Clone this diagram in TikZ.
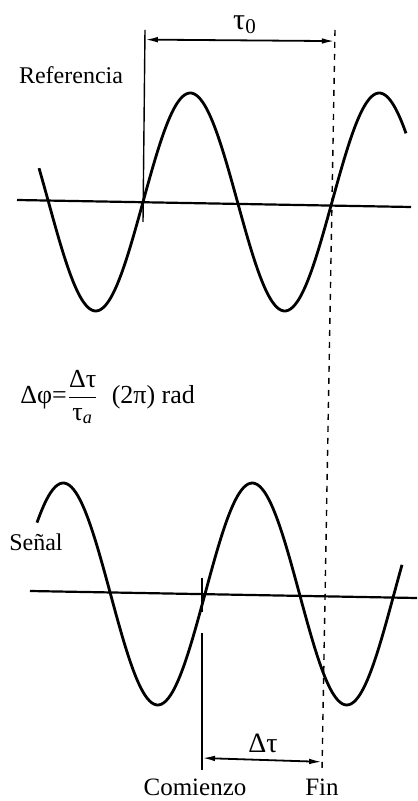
\documentclass[tikz,border=0pt]{standalone}
\usepackage{amsmath}
\usepackage{fontspec}
\setmainfont{Liberation Serif}
\usepackage{tikz}
\usetikzlibrary{positioning,arrows.meta,calc}

\begin{document}
\begin{tikzpicture}[
      x=0.5pt, y=-0.5pt,
      wave/.style={line width=1.4pt, line join=round},
      axisline/.style={line width=1.1pt},
      marker/.style={line width=0.7pt},
      dashmark/.style={line width=0.7pt, dash pattern=on 3pt off 3pt},
      dim/.style={{Latex[length=6.5pt,width=2.8pt]}-{Latex[length=6.5pt,width=2.8pt]}, line width=0.9pt},
      lbl/.style={font=\fontsize{12}{14}\selectfont, inner sep=1pt}
  ]
    \useasboundingbox (0,0) rectangle (417,801);
    % reference signal
    \draw[axisline] (17,200) -- (411,207);
    \draw[wave] plot[domain=39:406, samples=160, smooth] (\x, {202-109*sin((\x-143)/189*360)});
    % measured signal
    \draw[axisline] (30,591) -- (417,598);
    \draw[wave] plot[domain=37:402, samples=160, smooth] (\x, {594-111*sin((\x-205)/189*360)});
    % time marks
    \coordinate (refTop) at (145,30);
    \coordinate (refBot) at (143,222);
    \coordinate (finTop) at (335,30);
    \coordinate (finBot) at (322,770);
    \coordinate (comTop) at (202,633);
    \coordinate (comBot) at (202,770);
    \coordinate (comTickA) at (202,578);
    \coordinate (comTickB) at (202,612);
    \draw[marker] (refTop) -- (refBot);
    \draw[dashmark] (finTop) -- (finBot);
    \draw[marker] (comTop) -- (comBot);
    \draw[marker] (comTickA) -- (comTickB);
    \coordinate (periodL) at ($(refTop)!0.05!(refBot)$);
    \coordinate (periodR) at ($(finTop)!0.015!(finBot)$);
    \coordinate (deltaL) at (202,758);
    \coordinate (deltaR) at ($(finTop)!0.989!(finBot)$);
    \draw[dim] (periodL) -- (periodR);
    \draw[dim] (deltaL) -- (deltaR);
    % labels
    \node[lbl, font=\fontsize{15}{17}\selectfont] (tauzero) at (245,25) {τ\textsubscript{0}};
    \node[lbl] (reflabel) at (71,75) {Referencia};
    \node[lbl, font=\fontsize{13}{15}\selectfont, anchor=west] (phaseeq) at (18,397) {Δφ=$\dfrac{\text{Δτ}}{\text{τ}_{\textit{a}}}$\ \ (2π) rad};
    \node[lbl] (senlabel) at (36,542) {Señal};
    \node[lbl, font=\fontsize{14}{16}\selectfont] (deltalabel) at (263,743) {Δτ};
    \node[lbl, font=\fontsize{12.5}{15}\selectfont] (startlabel) at (195,787) {Comienzo};
    \node[lbl, font=\fontsize{12.5}{15}\selectfont] (endlabel) at (322,787) {Fin};
  \end{tikzpicture}
\end{document}
